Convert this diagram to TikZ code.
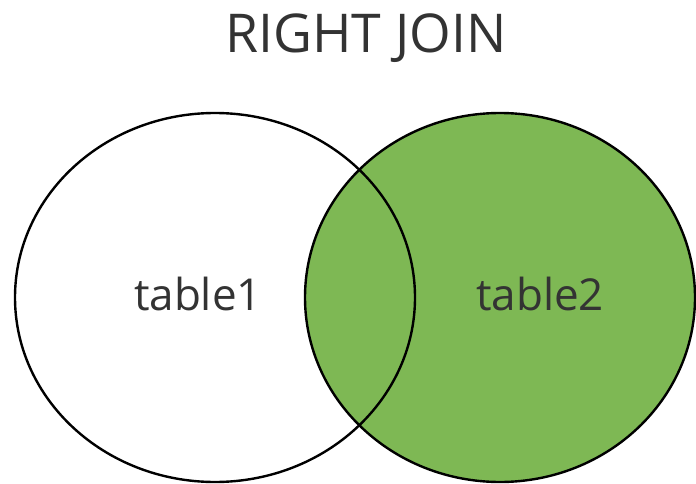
\documentclass[tikz,border=0pt]{standalone}
\usepackage{fontspec}
\setmainfont{Open Sans}
\usetikzlibrary{shapes.geometric}
\definecolor{joingreen}{HTML}{7EB854}
\definecolor{labelgrey}{HTML}{333333}
\tikzset{
  setshape/.style={ellipse, draw=black, line width=2.4pt, inner sep=0pt, outer sep=0pt},
  setlabel/.style={text=labelgrey, inner sep=0pt, anchor=base, font=\fontsize{44}{50}\selectfont},
}
\begin{document}
\begin{tikzpicture}[x=1pt, y=-1pt]
  \useasboundingbox (0,0) rectangle (696,484);
  % title
  \node[text=labelgrey, inner sep=0pt, anchor=base, font=\fontsize{53.5}{60}\selectfont] (title) at (366,53) {RIGHT JOIN};
  % right set, filled
  \node[setshape, fill=joingreen, minimum width=390pt, minimum height=369pt] (t2) at (500,297.5) {};
  % left set, outline only
  \node[setshape, minimum width=400pt, minimum height=369pt] (t1) at (215,297.5) {};
  % labels
  \node[setlabel] (l1) at (198,310) {table1};
  \node[setlabel] (l2) at (540,310) {table2};
\end{tikzpicture}
\end{document}
